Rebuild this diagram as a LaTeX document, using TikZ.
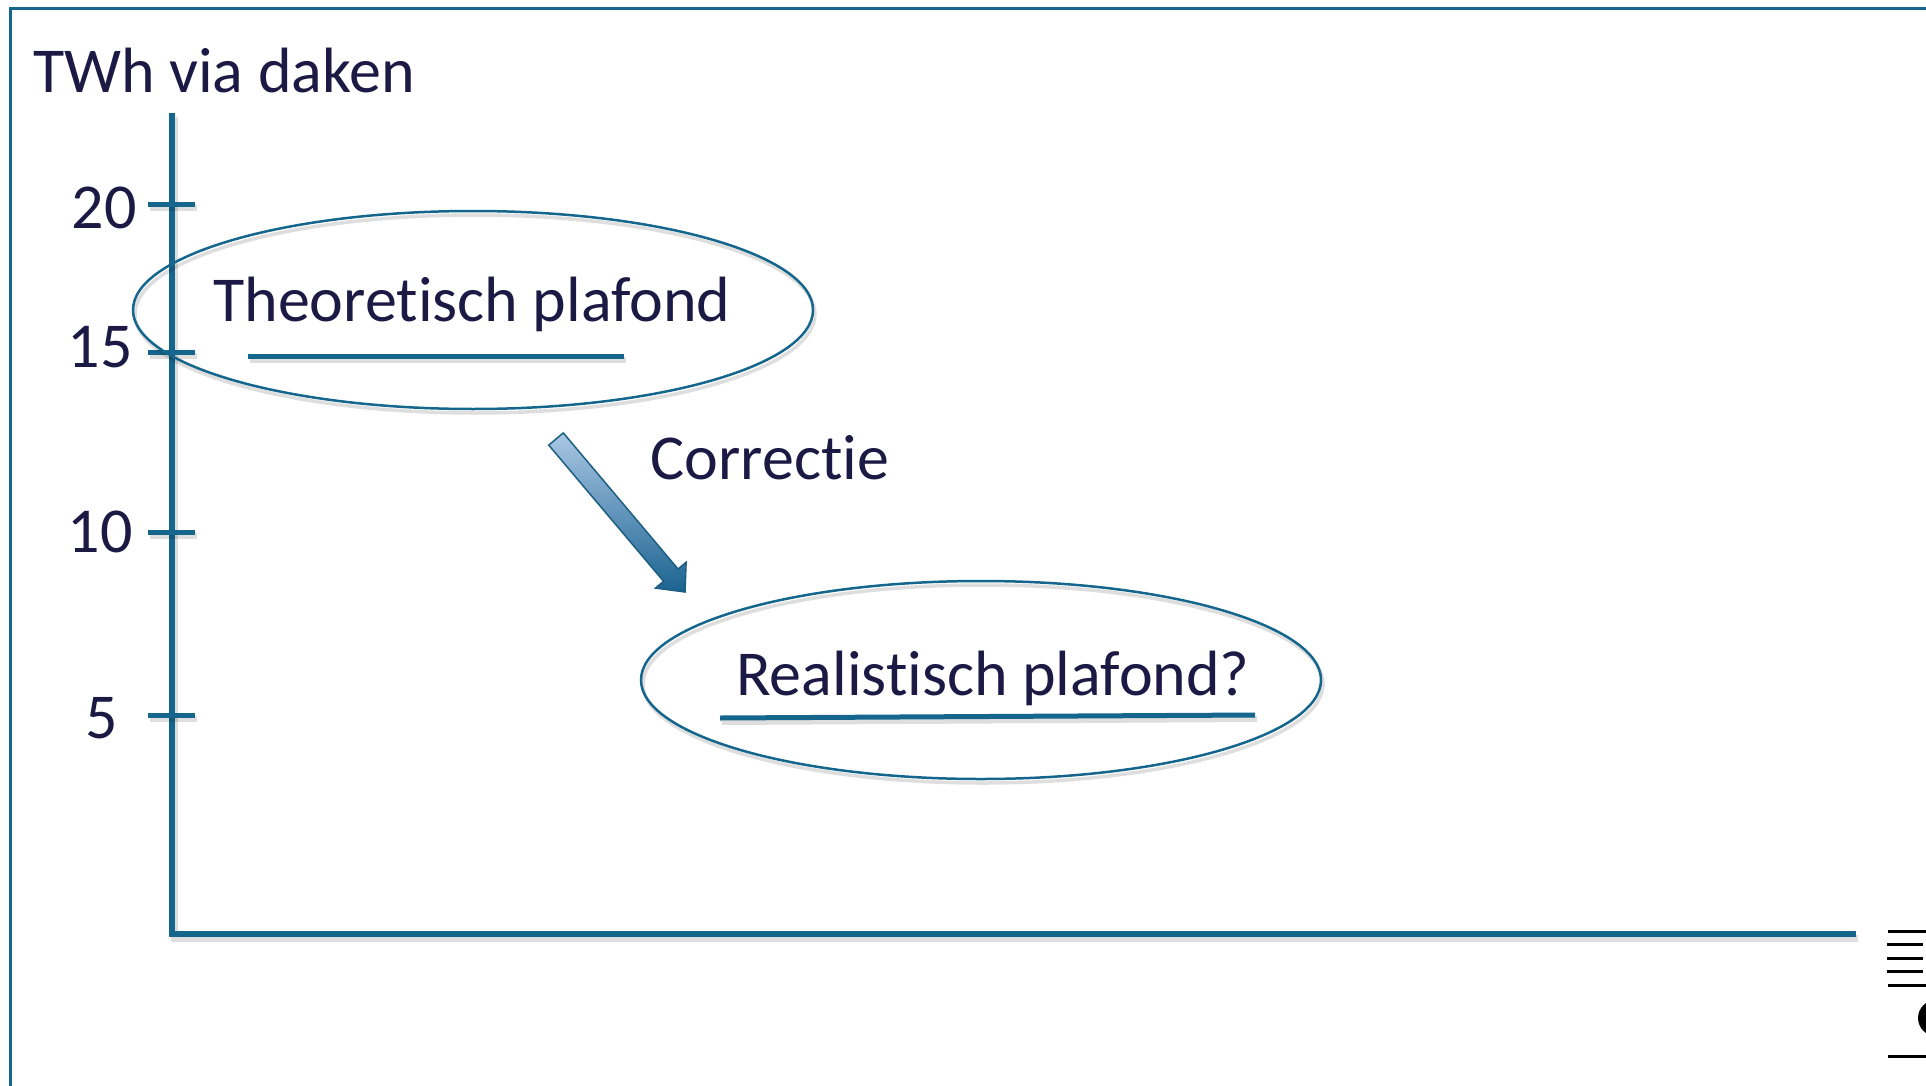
\documentclass[tikz,border=0pt]{standalone}
\usepackage{fontspec}
\setmainfont{Carlito}[Ligatures=NoCommon]
\usetikzlibrary{calc,shapes.geometric}
\definecolor{axisblue}{HTML}{15668C}
\definecolor{txt}{HTML}{1C1A45}
\definecolor{arrlight}{HTML}{AAC7E4}
\definecolor{arrdark}{HTML}{1B6391}
\definecolor{arrline}{HTML}{1D5F82}
\begin{document}
\begin{tikzpicture}[x=1pt,y=-1pt,
  lbl/.style={text=txt,font=\fontsize{64}{70}\selectfont,inner sep=0pt},
  sh/.style={preaction={draw=black,opacity=0.13,line width=#1,transform canvas={xshift=2pt,yshift=-4pt}}},
  axisline/.style={draw=axisblue,line width=6pt,sh=7pt},
  tickline/.style={draw=axisblue,line width=5pt,sh=6pt},
  uline/.style={draw=axisblue,line width=5pt,sh=6pt},
  oval/.style={ellipse,draw=axisblue,line width=2.5pt,minimum width=680pt,minimum height=198pt,inner sep=0pt,sh=3.5pt},
  frameline/.style={draw=axisblue,line width=3pt},
  junk/.style={draw=black,line width=3pt}
]
\useasboundingbox (0,0) rectangle (1926,1086);
% frame
\draw[frameline] (10,1086) -- (10,9) -- (1926,9);
% axes
\coordinate (ytop) at (172,113);
\coordinate (origin) at (172,934);
\coordinate (xend) at (1856,934);
\draw[axisline] (ytop) -- (origin) -- (xend);
% ticks
\foreach \n/\y in {t20/204,t15/352,t10/532,t5/715}{
  \coordinate (\n a) at (148,\y);
  \coordinate (\n b) at (195,\y);
  \draw[tickline] (\n a) -- (\n b);
}
% labels
\node[lbl,anchor=base west] (title) at (33,93) {TWh via daken};
\node[lbl,anchor=base] (l20) at (104,228) {20};
\node[lbl,anchor=base] (l15) at (100,367) {15};
\node[lbl,anchor=base] (l10) at (100,552) {10};
\node[lbl,anchor=base] (l5) at (102,738) {5};
% ellipses
\node[oval] (theo) at (473,310) {};
\node[oval] (real) at (981,680) {};
\node[lbl,anchor=base] (theotxt) at (472,321) {Theoretisch plafond};
\node[lbl,anchor=base] (realtxt) at (993,695) {Realistisch plafond?};
\node[lbl,anchor=base] (corr) at (770,479) {Correctie};
\coordinate (u1a) at (248,356);
\coordinate (u1b) at (624,356);
\draw[uline] (u1a) -- (u1b);
\coordinate (u2a) at (720,718);
\coordinate (u2b) at (1255,715);
\draw[uline] (u2a) -- (u2b);
% arrow
\coordinate (aa) at (556,439);
\coordinate (ab) at (685,592);
\coordinate (ac) at ($(aa)!0.89!(ab)$);
\path[top color=arrlight,bottom color=arrdark,draw=arrline,line width=1.5pt,line join=miter]
  ($(aa)!9.5pt!90:(ab)$) -- ($(ac)!9.5pt!-90:(aa)$) -- ($(ac)!20pt!-90:(aa)$) -- (ab)
  -- ($(ac)!20pt!90:(aa)$) -- ($(ac)!9.5pt!90:(aa)$) -- ($(aa)!9.5pt!-90:(ab)$) -- cycle;
% cropped marks at the right edge
\draw[junk] (1888,931) -- (1926,931);
\draw[junk] (1887,944) -- (1923,944);
\draw[junk] (1887,958) -- (1923,958);
\draw[junk] (1887,971) -- (1923,971);
\draw[junk] (1888,985) -- (1926,985);
\draw[junk] (1888,1056) -- (1926,1056);
\fill[black] (1936,1018) circle (18);
\end{tikzpicture}
\end{document}
